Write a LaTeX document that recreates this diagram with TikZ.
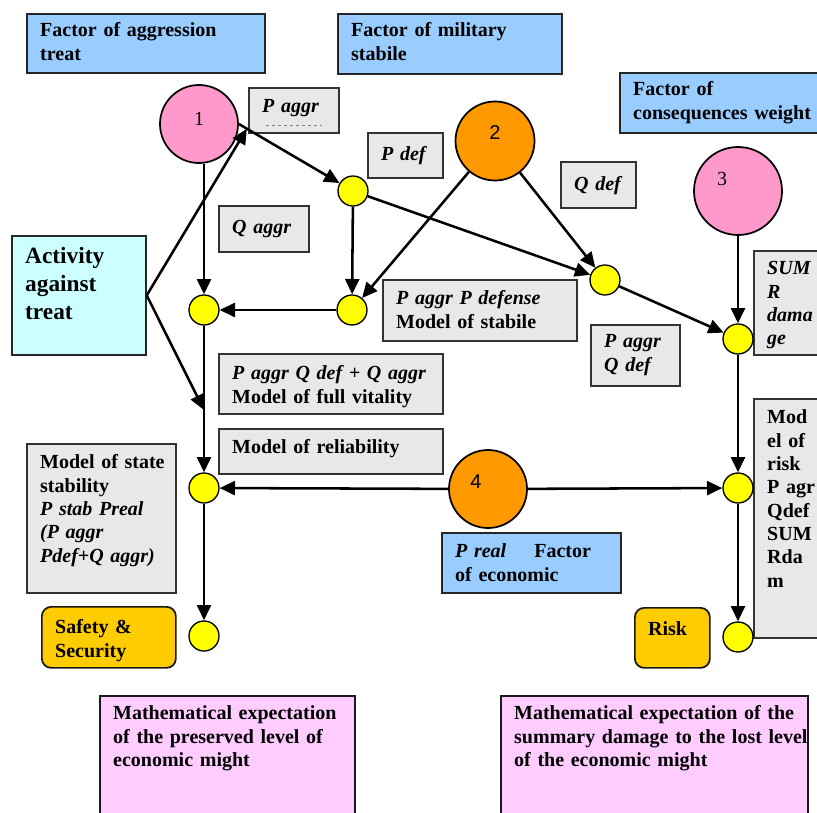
\documentclass[tikz,border=0pt]{standalone}
\usepackage{fontspec}
\setmainfont{Liberation Serif}
\newfontfamily\numsans{Liberation Sans}
\usepackage{xcolor}
\usepackage{tikz}
\usetikzlibrary{arrows.meta, calc}
\definecolor{factorblue}{RGB}{153,204,255}
\definecolor{actcyan}{RGB}{204,255,255}
\definecolor{notegray}{RGB}{232,232,232}
\definecolor{aggpink}{RGB}{255,153,204}
\definecolor{milorange}{RGB}{255,153,0}
\definecolor{goalorange}{RGB}{255,204,0}
\definecolor{expectpink}{RGB}{255,204,255}
\definecolor{pointyellow}{RGB}{255,255,0}
\newcommand{\numat}[3]{\makebox[0pt]{\kern#1\raisebox{#2}[0pt][0pt]{#3}\kern-#1}}
\tikzset{
  panel/.style    = {rectangle, anchor=north west, align=left, line width=1.3pt,
                     inner xsep=10pt, inner ysep=5pt,
                     font=\fontsize{15}{17.5}\selectfont\bfseries},
  dims/.code n args = {3}{%
    \pgfmathsetlengthmacro\pnlw{#1*0.75pt}%
    \pgfmathsetlengthmacro\pnltw{#1*0.75pt-20pt}%
    \pgfmathsetlengthmacro\pnlh{#2*0.75pt}%
    \pgfmathsetlengthmacro\pnlth{#3*0.75pt-5pt}%
    \pgfmathsetlengthmacro\pnltd{(#2-#3)*0.75pt-5pt}%
    \pgfkeysalso{minimum width=\pnlw, text width=\pnltw, minimum height=\pnlh,
                 text height=\pnlth, text depth=\pnltd}},
  factor/.style   = {panel, draw=black!85, fill=factorblue},
  note/.style     = {panel, draw=black!80, fill=notegray},
  goal/.style     = {panel, draw=black!90, fill=goalorange, rounded corners=7pt},
  expect/.style   = {panel, draw=black!90, fill=expectpink},
  hub/.style      = {circle, draw=black, line width=1.3pt, inner sep=0pt,
                     minimum size=#1*1.5pt, font=\fontsize{15}{18}\selectfont},
  ypoint/.style   = {circle, draw=black, line width=1pt, fill=pointyellow,
                     minimum size=22.5pt, inner sep=0pt},
  arrow/.style    = {-{Triangle[length=11.5pt, width=10.5pt]}, line width=1.9pt},
}

\begin{document}
\begin{tikzpicture}[x=0.75pt, y=-0.75pt]
  \useasboundingbox (0,0) rectangle (817,813);

  \node[factor, dims={238}{59}{23}] (fagg) at (26,13) {Factor of aggression\\treat};
  \node[factor, dims={224}{60}{23}] (fmil) at (337,13) {Factor of military\\stabile};
  \node[factor, dims={215}{60}{23}] (fcons) at (619,72) {Factor of\\consequences~weight};

  \node[hub=39, fill=aggpink] (aggr) at (199,124) {\numat{0pt}{-1.25pt}{1}};
  \node[hub=39.5, fill=milorange] (mil) at (495,141) {\numat{0pt}{1pt}{\numsans 2}};
  \node[hub=44, fill=aggpink] (cons) at (738,191) {\numat{-12pt}{4pt}{3}};
  \node[hub=39, fill=milorange] (econ) at (488,489) {\numat{-9pt}{0.25pt}{\numsans 4}};

  \node[note, dims={90}{45}{25}] (paggr) at (248,87) {\textit{P aggr}};
  \draw[gray, line width=0.5pt, dash pattern=on 2pt off 2.5pt]
    ([xshift=-21pt, yshift=6pt]paggr.south) -- ([xshift=21pt, yshift=6pt]paggr.south);
  \node[note, dims={75}{45}{28}] (pdefl) at (367,132) {\textit{P def}};
  \node[note, dims={75}{46}{29}] (qdefl) at (560,161) {\textit{Q def}};
  \node[note, dims={90}{46}{28}] (qaggr) at (218,205) {\textit{Q aggr}};
  \node[panel, draw=black!85, fill=actcyan, dims={134}{119}{28},
        font=\fontsize{17.5}{21}\selectfont\bfseries] (act) at (11,235) {Activity\\against\\treat};
  \node[note, dims={194}{61}{25}] (mstab) at (382,279) {\textit{P aggr P defense}\\Model of stabile};
  \node[note, dims={89}{61}{23}] (pq) at (590,324) {\textit{P aggr}\\\textit{Q def}};
  \node[note, dims={80}{104}{24}] (sumr) at (753,250) {\textit{SUM}\\\textit{R}\\\textit{dama}\\\textit{ge}};
  \node[note, dims={224}{60}{26}] (mfull) at (218,353) {\textit{P~aggr~Q~def~+~Q~aggr}\\Model of full vitality};
  \node[note, dims={224}{45}{25}] (mrel) at (218,428) {Model of reliability};
  \node[note, dims={149}{149}{25}] (mstate) at (26,443)
    {Model~of~state\\stability\\\textit{P~stab~Preal}\\\textit{(P~aggr}\\\textit{Pdef+Q~aggr)}};
  \node[note, dims={80}{239}{25}] (mrisk) at (753,398) {Mod\\el of\\risk\\P agr\\Qdef\\SUM\\Rda\\m};
  \node[factor, dims={179}{60}{25}] (preal) at (441,532) {\textit{P real}\hspace{21pt}Factor\\of economic};
  \node[goal, dims={134}{61}{27}] (safety) at (41,606) {Safety \&\\Security};
  \node[goal, dims={75}{60}{28}] (riskb) at (634,607) {Risk};
  \node[expect, dims={255}{135}{24}] (expl) at (99,695)
    {Mathematical~expectation\\of the preserved level of\\economic might};
  \node[expect, dims={307}{135}{24}] (expr) at (500,695)
    {\mbox{Mathematical expectation of the}\\\mbox{summary damage to the lost level}\\of the economic might};

  \node[ypoint] (pd) at (353,191) {};
  \node[ypoint] (full) at (204,310) {};
  \node[ypoint] (stab) at (352,310) {};
  \node[ypoint] (qd) at (605,280) {};
  \node[ypoint] (sum) at (738,339) {};
  \node[ypoint] (state) at (204,488) {};
  \node[ypoint] (riskm) at (738,488) {};
  \node[ypoint] (safe) at (204,636) {};
  \node[ypoint] (risk) at (738,637) {};
  \coordinate (jn) at (204,410);

  \draw[arrow] (aggr.south -| full) -- (full);
  \draw[arrow] (aggr.east) -- (pd);
  \draw[arrow] (act.east) -- ($(aggr.east)!0.07!(pd)$);
  \draw[arrow] (act.east) -- (jn);
  \draw[arrow] (pd) -- (stab);
  \draw[arrow] (pd) -- (qd);
  \draw[arrow] (mil) -- (stab);
  \draw[arrow] (mil) -- (qd);
  \draw[arrow] (stab) -- (full);
  \draw[arrow] (qd) -- (sum);
  \draw[arrow] (cons) -- (sum);
  \draw[arrow] (full) -- (state);
  \draw[arrow] (sum) -- (riskm);
  \draw[arrow] (econ) -- (state);
  \draw[arrow] (econ) -- (riskm);
  \draw[arrow] (state) -- (safe);
  \draw[arrow] (riskm) -- (risk);
\end{tikzpicture}
\end{document}
